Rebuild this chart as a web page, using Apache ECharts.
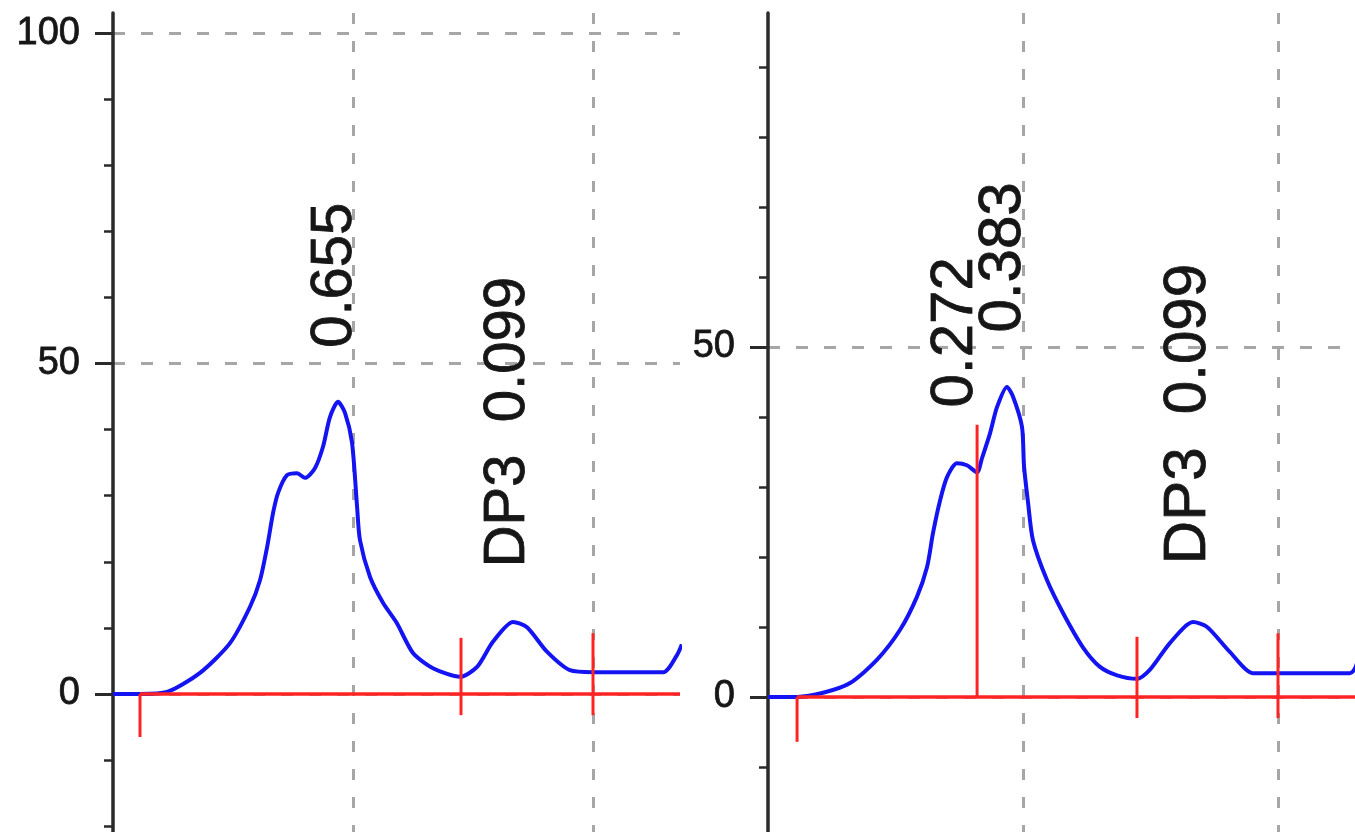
<!DOCTYPE html>
<html>
<head>
<meta charset="utf-8">
<script src="https://cdn.jsdelivr.net/npm/echarts@6/dist/echarts.min.js"></script>
<style>
html,body{margin:0;padding:0;background:#ffffff;}
#chart{width:1355px;height:832px;}
</style>
</head>
<body>
<div id="chart"></div>
<script>
// ---------- data ----------
// left chromatogram
const leftTime   = [5.000, 5.1125, 5.225, 5.3625, 5.4875, 5.571, 5.6125, 5.642, 5.667, 5.6875, 5.725, 5.767, 5.800, 5.842, 5.875, 5.904, 5.9375, 5.967, 5.996, 6.017, 6.029, 6.071, 6.125, 6.183, 6.250, 6.333, 6.446, 6.517, 6.583, 6.667, 6.725, 6.808, 6.904, 7.000, 7.292, 7.350, 7.370];
const leftSignal = [0, 0, 0.3, 3.2, 7.7, 13.2, 17.2, 22.2, 27.4, 30.4, 33.1, 33.4, 32.7, 34.2, 37.4, 41.9, 44.2, 42.5, 38.0, 28.3, 23.3, 17.7, 13.8, 10.7, 6.2, 3.9, 2.6, 4.1, 7.9, 10.9, 10.1, 6.4, 3.6, 3.3, 3.3, 5.9, 7.5];
const leftBaseline = [5.1125, 7.3625];
const leftMarkX    = [5.1125, 6.45, 7.0];
const leftMarkLow  = [-6.5, -3.2, -3.2];
const leftMarkHigh = [0, 8.5, 9.2];
const leftLabelText = ['0.655', 'DP3  0.099'];
const leftLabelX    = [5.925, 6.646];
const leftLabelY    = [52.3, 19.1];
const leftYTicks    = [0, 50, 100];

// right chromatogram
const rightTime   = [5.000, 5.114, 5.216, 5.322, 5.427, 5.518, 5.584, 5.624, 5.647, 5.675, 5.702, 5.741, 5.780, 5.820, 5.839, 5.871, 5.898, 5.937, 5.961, 5.996, 6.004, 6.020, 6.039, 6.094, 6.157, 6.235, 6.302, 6.369, 6.447, 6.498, 6.576, 6.667, 6.722, 6.812, 6.902, 6.996, 7.282, 7.302, 7.320];
const rightSignal = [0, 0, 0.6, 2.0, 5.3, 9.6, 14.3, 18.6, 23.4, 28.1, 31.4, 33.4, 33.1, 32.1, 34.1, 37.7, 41.4, 44.3, 42.9, 38.6, 33.0, 27.7, 22.4, 16.7, 12.0, 7.1, 4.3, 3.1, 2.6, 3.9, 7.7, 10.7, 10.0, 6.4, 3.4, 3.4, 3.4, 4.1, 6.0];
const rightBaseline = [5.114, 7.302];
const rightMarkX    = [5.114, 5.82, 6.447, 7.0];
const rightMarkLow  = [-6.4, 0, -3.0, -3.0];
const rightMarkHigh = [0, 38.9, 8.6, 9.1];
const rightLabelText = ['0.272', '0.383', 'DP3  0.099'];
const rightLabelX    = [5.737, 5.925, 6.651];
const rightLabelY    = [41.3, 52.0, 18.9];
const rightYTicks    = [0, 50];

// ---------- styles ----------
const FONT = "'Liberation Sans', Arial, sans-serif";
const BLUE = '#1414f2';
const RED = '#ff2424';
const GRID_GRAY = '#a6a6a6';
const AXIS_DARK = '#2a2a2a';
const TEXT = '#161616';

function zip(a, b) { return a.map((v, i) => [v, b[i]]); }

function makeAxes(gi, yMin, yMax, xMax, ticks, labelSize) {
  const yMain = {
    type: 'value', gridIndex: gi, position: 'left', min: yMin, max: yMax, interval: 50,
    axisLine: { show: true, lineStyle: { color: AXIS_DARK, width: 3.5 } },
    axisTick: { show: false },
    minorTick: { show: true, splitNumber: 5, length: 9, lineStyle: { color: AXIS_DARK, width: 2.5 } },
    minorSplitLine: { show: false },
    splitLine: { show: true, showMinLine: false, showMaxLine: false,
      lineStyle: { color: GRID_GRAY, width: 3, type: [12, 16] } },
    axisLabel: { show: true, margin: 33, showMaxLabel: false, showMinLabel: false,
      fontFamily: FONT, fontSize: labelSize, color: TEXT,
      textBorderColor: TEXT, textBorderWidth: 0.8,
      formatter: v => (ticks.indexOf(v) >= 0 ? String(v) : '') }
  };
  const yMajor = {
    type: 'value', gridIndex: gi, position: 'left', offset: 0, min: yMin, max: yMax, interval: 50,
    axisLine: { show: false },
    axisTick: { show: true, customValues: ticks, length: 18, lineStyle: { color: AXIS_DARK, width: 3 } },
    axisLabel: { show: false },
    splitLine: { show: false }
  };
  const x = {
    type: 'value', gridIndex: gi, min: 5, max: xMax, interval: 1,
    axisLine: { show: false }, axisTick: { show: false }, axisLabel: { show: false },
    splitLine: { show: true, showMinLine: false, showMaxLine: false,
      lineStyle: { color: GRID_GRAY, width: 3, type: [11, 17] } }
  };
  return { yMain, yMajor, x };
}

const L = makeAxes(0, -50, 103.03, 7.3625, leftYTicks, 38);
const R = makeAxes(1, -50, 97.71, 7.302, rightYTicks, 38);

function markerSeries(xi, yi, xs, lo, hi, width) {
  return {
    type: 'custom', xAxisIndex: xi, yAxisIndex: yi, z: 5, silent: true,
    data: xs.map((x, i) => [x, lo[i], hi[i]]),
    renderItem: (params, api) => {
      const p1 = api.coord([api.value(0), api.value(1)]);
      const p2 = api.coord([api.value(0), api.value(2)]);
      return { type: 'line', shape: { x1: p1[0], y1: p1[1], x2: p2[0], y2: p2[1] },
        style: { stroke: RED, lineWidth: width } };
    }
  };
}

function labelSeries(xi, yi, xs, ys, texts, size) {
  return {
    type: 'scatter', xAxisIndex: xi, yAxisIndex: yi, z: 6, silent: true,
    symbolSize: 1, itemStyle: { color: 'rgba(255,255,255,0)' },
    data: texts.map((t, i) => ({ name: t, value: [xs[i], ys[i]] })),
    label: { show: true, position: [0, 0], rotate: 90, align: 'left', verticalAlign: 'middle',
      formatter: '{b}', fontFamily: FONT, fontSize: size, color: TEXT,
      textBorderColor: TEXT, textBorderWidth: 0.8, opacity: 1 }
  };
}

const option = {
  animation: false,
  backgroundColor: '#ffffff',
  grid: [
    { left: 113, top: 13, width: 567, height: 1011.5, outerBoundsMode: 'none', containLabel: false },
    { left: 768, top: 13, width: 587, height: 1034, outerBoundsMode: 'none', containLabel: false }
  ],
  xAxis: [L.x, R.x],
  yAxis: [L.yMain, L.yMajor, R.yMain, R.yMajor],
  series: [
    // left
    { type: 'line', xAxisIndex: 0, yAxisIndex: 0, z: 3, showSymbol: false, smooth: 0.25,
      data: zip(leftTime, leftSignal), lineStyle: { color: BLUE, width: 4 } },
    { type: 'line', xAxisIndex: 0, yAxisIndex: 0, z: 4, showSymbol: false,
      data: leftBaseline.map(x => [x, 0]), lineStyle: { color: RED, width: 3.5 } },
    markerSeries(0, 0, leftMarkX, leftMarkLow, leftMarkHigh, 3),
    labelSeries(0, 0, leftLabelX, leftLabelY, leftLabelText, 58),
    // right
    { type: 'line', xAxisIndex: 1, yAxisIndex: 2, z: 3, showSymbol: false, smooth: 0.25,
      data: zip(rightTime, rightSignal), lineStyle: { color: BLUE, width: 4 } },
    { type: 'line', xAxisIndex: 1, yAxisIndex: 2, z: 4, showSymbol: false,
      data: rightBaseline.map(x => [x, 0]), lineStyle: { color: RED, width: 3.5 } },
    markerSeries(1, 2, rightMarkX, rightMarkLow, rightMarkHigh, 3),
    labelSeries(1, 2, rightLabelX, rightLabelY, rightLabelText, 60)
  ]
};

const chart = echarts.init(document.getElementById('chart'), null, { renderer: 'canvas' });
chart.setOption(option);
</script>
</body>
</html>
